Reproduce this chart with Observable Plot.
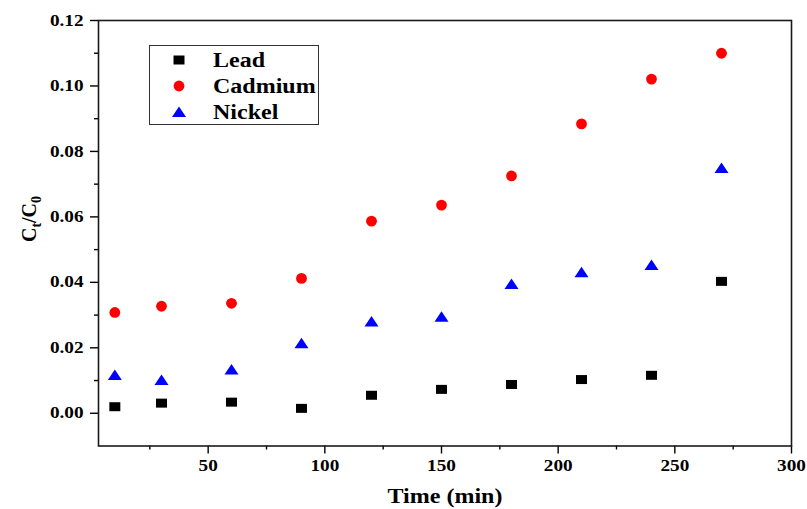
<!DOCTYPE html>
<html><head><meta charset="utf-8">
<script src="https://cdn.jsdelivr.net/npm/d3@7"></script>
<script src="https://cdn.jsdelivr.net/npm/@observablehq/plot@0.6"></script>
<style>
body{margin:0;background:#fff}
</style>
</head><body><div id="chart"></div>
<script>
const times = [10, 30, 60, 90, 120, 150, 180, 210, 240, 270];
const lead = [0.0020, 0.0031, 0.0034, 0.0015, 0.0055, 0.0073, 0.0088, 0.0103, 0.0116, 0.0403];
const cadmium = [0.0308, 0.0327, 0.0336, 0.0412, 0.0587, 0.0636, 0.0725, 0.0884, 0.1021, 0.1100];
const nickel = [0.0117, 0.0102, 0.0134, 0.0214, 0.0280, 0.0295, 0.0395, 0.0431, 0.0453, 0.0749];
const seriesNames = ["Lead", "Cadmium", "Nickel"];
const seriesColors = ["#000000", "#ff0000", "#0000ff"];
const xMajor = [50, 100, 150, 200, 250, 300];
const xMinor = [25, 75, 125, 175, 225, 275];
const yMajor = [0, 0.02, 0.04, 0.06, 0.08, 0.10, 0.12];
const yMinor = [0.01, 0.03, 0.05, 0.07, 0.09, 0.11];

const squareSym = {draw(ctx) { ctx.rect(-5.5, -4.5, 11, 9); }};
const circleSym = {draw(ctx) { ctx.moveTo(5.4, 0); ctx.arc(0, 0, 5.4, 0, 2 * Math.PI); }};
const triSym = {draw(ctx) { ctx.moveTo(0, -5.5); ctx.lineTo(7, 5); ctx.lineTo(-7, 5); ctx.closePath(); }};
const symbols = [squareSym, circleSym, triSym];
const seriesValues = [lead, cadmium, nickel];

const rows = [];
seriesNames.forEach((name, s) => times.forEach((t, i) => rows.push({series: name, s, time: t, value: seriesValues[s][i]})));

const FONT = '"Liberation Serif", "Times New Roman", serif';

const chart = Plot.plot({
  width: 807,
  height: 509,
  marginLeft: 98,
  marginRight: 16,
  marginTop: 20,
  marginBottom: 63.5,
  style: {background: "#fff", color: "#000"},
  x: {domain: [3, 300]},
  y: {domain: [-0.01, 0.12]},
  marks: [
    Plot.axisX(xMinor, {tickSize: 4, tickFormat: () => "", label: null, strokeWidth: 1.4}),
    Plot.axisX(xMajor, {tickSize: 8, tickPadding: 6, tickFormat: d => String(d), label: null, strokeWidth: 1.4, fontSize: 16}),
    Plot.axisY(yMinor, {tickSize: 4, tickFormat: () => "", label: null, strokeWidth: 1.4}),
    Plot.axisY(yMajor, {tickSize: 8, tickPadding: 7, tickFormat: d => d.toFixed(2), label: null, strokeWidth: 1.4, fontSize: 16}),
    ...seriesNames.map((name, s) =>
      Plot.dot(rows.filter(d => d.s === s), {x: "time", y: "value", symbol: symbols[s], r: 5, fill: seriesColors[s], stroke: "none"})
    ),
    Plot.frame({stroke: "#1a1a1a", strokeWidth: 1.6})
  ]
});

const svg = d3.select(chart);
svg.selectAll("text").style("font-family", FONT).style("font-weight", "bold").style("font-size", "16px").classed("stretch", true);

// y-axis title with subscripts
const yt = svg.append("text")
  .attr("transform", "translate(36,219) rotate(-90)")
  .attr("text-anchor", "middle")
  .style("font-family", FONT).style("font-weight", "bold").style("font-size", "20px")
  .attr("fill", "#000");
yt.append("tspan").text("C");
yt.append("tspan").attr("dy", 5).style("font-size", "14px").text("t");
yt.append("tspan").attr("dy", -5).text("/C");
yt.append("tspan").attr("dy", 5).style("font-size", "14px").text("0");

// x-axis title
svg.append("text")
  .attr("x", 445).attr("y", 503)
  .attr("text-anchor", "middle")
  .classed("stretch", true)
  .style("font-family", FONT).style("font-weight", "bold").style("font-size", "20px")
  .attr("fill", "#000")
  .text("Time (min)");

// legend
const lg = svg.append("g");
lg.append("rect").attr("x", 149.5).attr("y", 45.5).attr("width", 169).attr("height", 79)
  .attr("fill", "#fff").attr("stroke", "#333").attr("stroke-width", 1);
seriesNames.forEach((name, s) => {
  const y = 60 + s * 26;
  const p = d3.path(); symbols[s].draw(p, 0);
  lg.append("path").attr("d", p.toString()).attr("transform", `translate(179,${y})`).attr("fill", seriesColors[s]);
  lg.append("text").attr("x", 213).attr("y", y).attr("dy", "0.35em")
    .attr("text-anchor", "start")
    .classed("stretch", true)
    .style("font-family", FONT).style("font-weight", "bold").style("font-size", "20px")
    .attr("fill", "#000").text(name);
});

document.getElementById("chart").appendChild(chart);

// the reference text is slightly widened horizontally
svg.selectAll("text.stretch").each(function() {
  if (!this.textContent) return;
  const len = this.getComputedTextLength();
  if (len > 0) {
    this.setAttribute("textLength", (len * 1.2).toFixed(1));
    this.setAttribute("lengthAdjust", "spacingAndGlyphs");
  }
});
</script>
</body></html>
